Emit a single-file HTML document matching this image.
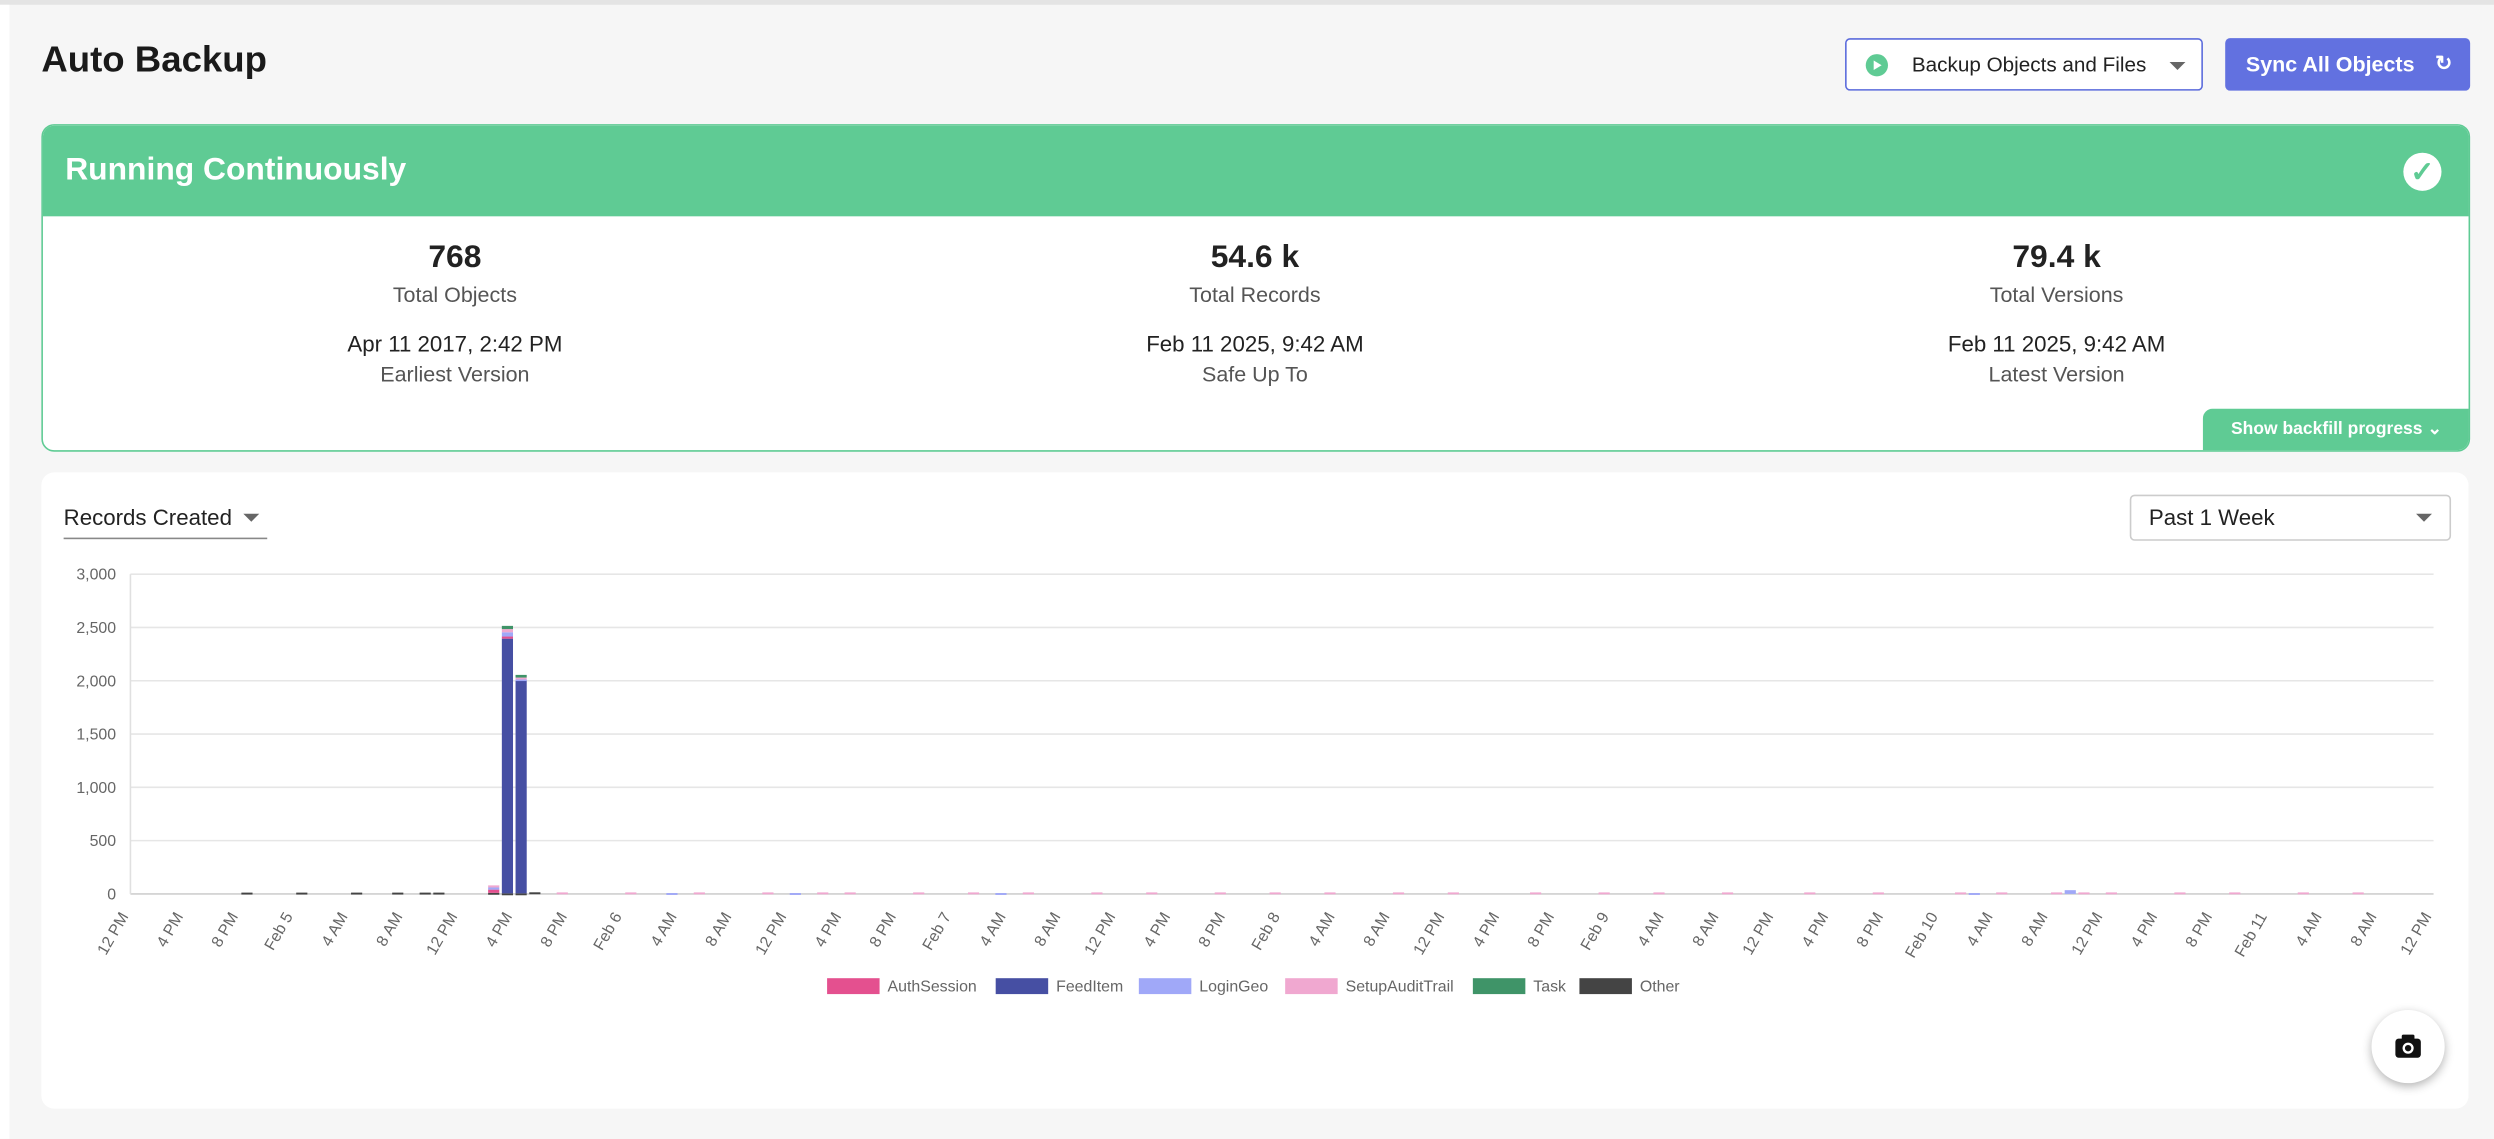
<!DOCTYPE html>
<html><head><meta charset="utf-8">
<style>
html,body{margin:0;padding:0;width:2494px;height:1138px;overflow:hidden;background:#f6f6f6;font-family:"Liberation Sans",sans-serif;}
#wrap{position:absolute;left:0;top:0;width:1568px;height:716px;transform:scale(1.59056);transform-origin:0 0;background:#f6f6f6;}
.abs{position:absolute;}
.stat{position:absolute;width:400px;text-align:center;color:#222;}
.v{font-size:20px;font-weight:bold;}
.l{font-size:13.5px;color:#555;}
.d{font-size:14px;color:#222;}
</style></head><body>
<div id="wrap">
<div class="abs" style="left:0;top:0;width:1568px;height:3px;background:#e4e4e4"></div>
<div class="abs" style="left:0;top:3px;width:6px;height:713px;background:#fff"></div>
<div class="abs" style="left:26px;top:24px;font-size:23px;font-weight:bold;color:#1a1a1a">Auto Backup</div>

<div class="abs" style="left:1160px;top:24px;width:223px;height:31px;border:1px solid #5b6bdc;border-radius:3px;background:#fff">
  <div class="abs" style="left:12px;top:9px;width:14px;height:14px;border-radius:50%;background:#5fcb94"><div class="abs" style="left:5px;top:3.5px;border-left:5px solid #fff;border-top:3.5px solid transparent;border-bottom:3.5px solid transparent"></div></div>
  <div class="abs" style="left:41px;top:8px;font-size:13px;color:#222">Backup Objects and Files</div>
  <div class="abs" style="left:203px;top:14px;border-top:5px solid #666;border-left:5px solid transparent;border-right:5px solid transparent"></div>
</div>
<div class="abs" style="left:1399px;top:24px;width:154px;height:33px;background:#6271e0;border-radius:3px;color:#fff;font-size:13.5px;font-weight:bold">
  <div class="abs" style="left:13px;top:9px">Sync All Objects</div>
  <div class="abs" style="left:132px;top:8px;font-size:13px">&#x21bb;</div>
</div>

<div class="abs" style="left:26px;top:78px;width:1525px;height:204px;border:1px solid #5fcb94;border-radius:8px;background:#fff;overflow:hidden">
  <div class="abs" style="left:0;top:0;width:1525px;height:57px;background:#5fcb94">
    <div class="abs" style="left:14px;top:17px;font-size:20px;font-weight:bold;color:#fff">Running Continuously</div>
    <div class="abs" style="left:1484px;top:17px;width:24px;height:24px;border-radius:50%;background:#fff;color:#5fcb94;font-size:18px;font-weight:bold;text-align:center;line-height:24px">&#x2713;</div>
  </div>
  <div class="stat" style="left:59px;top:72px"><div class="v">768</div><div class="l" style="margin-top:4px">Total Objects</div><div class="d" style="margin-top:15px">Apr 11 2017, 2:42 PM</div><div class="l" style="margin-top:4px">Earliest Version</div></div>
  <div class="stat" style="left:562px;top:72px"><div class="v">54.6 k</div><div class="l" style="margin-top:4px">Total Records</div><div class="d" style="margin-top:15px">Feb 11 2025, 9:42 AM</div><div class="l" style="margin-top:4px">Safe Up To</div></div>
  <div class="stat" style="left:1066px;top:72px"><div class="v">79.4 k</div><div class="l" style="margin-top:4px">Total Versions</div><div class="d" style="margin-top:15px">Feb 11 2025, 9:42 AM</div><div class="l" style="margin-top:4px">Latest Version</div></div>
  <div class="abs" style="left:1358px;top:178px;width:168px;height:26px;background:#5fcb94;border-radius:6px 0 0 0;color:#fff;font-size:11px;font-weight:bold;line-height:26px;text-align:center">Show backfill progress &#x2304;</div>
</div>

<div class="abs" style="left:26px;top:297px;width:1526px;height:400px;background:#fff;border-radius:8px">
  <div class="abs" style="left:14px;top:20px;width:128px;height:21px;border-bottom:1px solid #888;font-size:14px;color:#222">Records Created<span class="abs" style="left:113px;top:6px;border-top:5px solid #666;border-left:5px solid transparent;border-right:5px solid transparent"></span></div>
  <div class="abs" style="left:1313px;top:14px;width:200px;height:27px;border:1px solid #ccc;border-radius:3px;font-size:14px;color:#222"><span class="abs" style="left:11px;top:5px">Past 1 Week</span><span class="abs" style="left:179px;top:11px;border-top:5px solid #666;border-left:5px solid transparent;border-right:5px solid transparent"></span></div>
</div>

<svg class="abs" style="left:0;top:0" width="1568" height="716" id="chart"></svg>

<div class="abs" style="left:1491px;top:635px;width:46px;height:46px;border-radius:50%;background:#fff;box-shadow:0 2px 6px rgba(0,0,0,0.3)">
  <svg width="46" height="46"><rect x="15" y="18" width="16" height="12" rx="2" fill="#111"/><rect x="19" y="15.5" width="8" height="4" rx="1" fill="#111"/><circle cx="23" cy="24" r="3.5" fill="#fff"/><circle cx="23" cy="24" r="2" fill="#111"/></svg>
</div>
</div>

<script>
const seriesNames = ["AuthSession","FeedItem","LoginGeo","SetupAuditTrail","Task","Other"];
const seriesColors = ["#e4508f","#464fa3","#a0a8f8","#f0a8d0","#3f9468","#444444"];
const yTicks = [0,500,1000,1500,2000,2500,3000];
const xTickLabels = ["12 PM","4 PM","8 PM","Feb 5","4 AM","8 AM","12 PM","4 PM","8 PM","Feb 6","4 AM","8 AM","12 PM","4 PM","8 PM","Feb 7","4 AM","8 AM","12 PM","4 PM","8 PM","Feb 8","4 AM","8 AM","12 PM","4 PM","8 PM","Feb 9","4 AM","8 AM","12 PM","4 PM","8 PM","Feb 10","4 AM","8 AM","12 PM","4 PM","8 PM","Feb 11","4 AM","8 AM","12 PM"];
const hourCount = 168;
// sparse hourly values: [hourIndex, value]
const authSession = [[26,30],[27,20]];
const feedItem = [[27,2390],[28,2000]];
const loginGeo = [[26,20],[27,40],[28,10],[39,8],[48,8],[63,8],[134,8],[141,35]];
const setupAuditTrail = [[26,20],[27,30],[28,15],[31,14],[36,14],[41,14],[46,14],[50,14],[52,14],[57,14],[61,14],[65,14],[70,14],[74,14],[79,14],[83,14],[87,14],[92,14],[96,14],[102,14],[107,14],[111,14],[116,14],[122,14],[127,14],[133,14],[136,14],[140,14],[142,14],[144,14],[149,14],[153,14],[158,14],[162,14]];
const task = [[27,30],[28,25]];
const other = [[8,12],[12,12],[16,12],[19,12],[21,12],[22,12],[26,10],[27,5],[28,5],[29,15]];

const svg = document.getElementById('chart');
const NS = "http://www.w3.org/2000/svg";
const X0=82, X1=1530, Y0=562, Y1=361, YMAX=3000;
const slot=(X1-X0)/hourCount;
function yScale(v){return Y0-(v/YMAX)*(Y0-Y1);}
function xScale(h){return X0+h*slot;}
function mk(tag,attrs){const e=document.createElementNS(NS,tag);for(const k in attrs)e.setAttribute(k,attrs[k]);svg.appendChild(e);return e;}

yTicks.forEach(t=>{
  const g=mk('line',{x1:X0,x2:X1,y1:yScale(t),y2:yScale(t),stroke:t===0?'#cfcfcf':'#e6e6e6','stroke-width':1});
  
  
  const tx=mk('text',{x:73,y:yScale(t)+3.5,'text-anchor':'end','font-size':10,fill:'#666','font-family':'Liberation Sans, sans-serif'});
  tx.textContent=t.toLocaleString('en-US');
  
  
});
const ax=mk('line',{x1:X0,x2:X0,y1:Y1,y2:Y0,stroke:'#e0e0e0'});



xTickLabels.forEach((lab,i)=>{
  const x=xScale(i*4);
  const tx=mk('text',{x:x-1,y:576,'text-anchor':'end','font-size':10,fill:'#666','font-family':'Liberation Sans, sans-serif',transform:`rotate(-60 ${x-1} 576)`});
  tx.textContent=lab;
  
  
});

const all=[authSession,feedItem,loginGeo,setupAuditTrail,task,other];
const stackBase=new Array(hourCount).fill(0);
const order=[5,1,0,2,3,4];
order.forEach(si=>{
  all[si].forEach(([h,v])=>{
    const b=stackBase[h];
    const yTop=yScale(b+v), yBot=yScale(b);
    const r=mk('rect',{x:xScale(h)+0.8,y:yTop,width:slot-1.6,height:Math.max(yBot-yTop,1.2),fill:seriesColors[si]});
    
    
    stackBase[h]+=v;
  });
});

const legendX=[520,626,716,808,926,993];
seriesNames.forEach((n,i)=>{
  const r=mk('rect',{x:legendX[i],y:615,width:33,height:10,fill:seriesColors[i]});
  
  
  const t=mk('text',{x:legendX[i]+38,y:623.5,'font-size':10,fill:'#666','font-family':'Liberation Sans, sans-serif'});
  t.textContent=n;
  
  
});
</script>
</body></html>
